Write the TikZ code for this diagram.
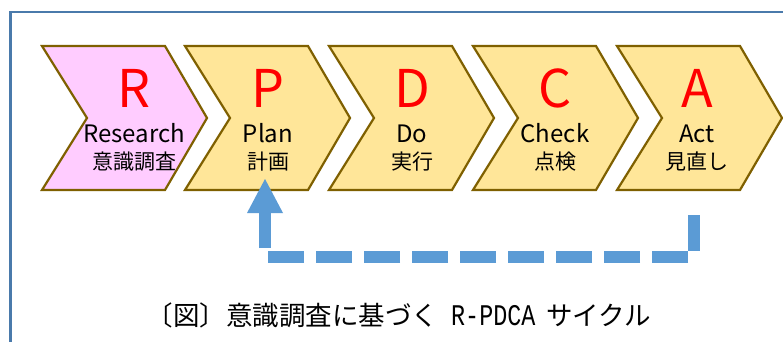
\documentclass[tikz,border=0pt]{standalone}
\usepackage{fontspec}
\usepackage{graphicx}
\newfontfamily\jp{Noto Sans CJK JP}
\newfontfamily\capmono{Liberation Mono}
\definecolor{framecol}{HTML}{4A7AAB}
\definecolor{chevbrown}{HTML}{7F6000}
\definecolor{chevpink}{HTML}{FFCCFF}
\definecolor{chevyellow}{HTML}{FFE699}
\definecolor{loopblue}{HTML}{5B9BD5}
\newcommand\chevshape[2]{%
  \path[chevline,fill=#2] (#1,46) -- ++(123,0) -- ++(42,72) -- ++(-42,72) -- ++(-123,0) -- ++(45,-72) -- cycle;}
\tikzset{
  chevline/.style={draw=chevbrown, line width=2.2pt, line join=miter},
  bigletter/.style={anchor=base, inner sep=0pt, text=red, font=\jp\fontsize{52}{52}\selectfont},
  engtext/.style={anchor=base, inner sep=0pt, font=\jp\fontsize{24}{24}\selectfont},
  jptext/.style={anchor=base, inner sep=0pt, font=\jp\fontsize{21}{21}\selectfont},
  loopline/.style={draw=loopblue, line width=12pt, line cap=butt},
  captiontext/.style={anchor=base west, inner sep=0pt, font=\jp\fontsize{26.5}{26.5}\selectfont}
}
\begin{document}
\begin{tikzpicture}[x=1pt,y=-1pt]
\useasboundingbox (0,0) rectangle (783,341);
\fill[white] (0,0) rectangle (783,341);
% frame
\draw[framecol, line width=2.6pt] (10.5,350) -- (10.5,12) -- (800,12);
% chevrons
\chevshape{42}{chevpink}
\chevshape{185}{chevyellow}
\chevshape{329}{chevyellow}
\chevshape{473}{chevyellow}
\chevshape{617}{chevyellow}
% texts
\node[bigletter] (lR) at (134,107) {R};
\node[engtext]  (eR) at (134,142) {Research};
\node[jptext]   (jR) at (134,169.5) {意識調査};
\node[bigletter] (lP) at (268,107) {P};
\node[engtext]  (eP) at (268,142) {Plan};
\node[jptext]   (jP) at (268,169.5) {計画};
\node[bigletter] (lD) at (412,107) {D};
\node[engtext]  (eD) at (412,142) {Do};
\node[jptext]   (jD) at (412,169.5) {実行};
\node[bigletter] (lC) at (555,107) {C};
\node[engtext]  (eC) at (555,142) {Check};
\node[jptext]   (jC) at (555,169.5) {点検};
\node[bigletter] (lA) at (697,107) {A};
\node[engtext]  (eA) at (697,142) {Act};
\node[jptext]   (jA) at (697,169.5) {見直し};
% feedback loop
\coordinate (vTop) at (694,215);
\coordinate (vBot) at (694,251);
\coordinate (hRight) at (688,257);
\coordinate (hLeft) at (267,257);
\coordinate (sBot) at (265,248);
\coordinate (sTop) at (265,212);
\coordinate (tipL) at (247,213);
\coordinate (tipR) at (283,213);
\coordinate (tipT) at (265,179);
\draw[loopline] (vTop) -- (vBot);
\draw[loopline, dash pattern=on 36pt off 12pt] (hRight) -- (hLeft);
\draw[loopline] (sBot) -- (sTop);
\fill[loopblue] (tipL) -- (tipR) -- (tipT) -- cycle;
% caption
\node[captiontext] (cap) at (146.5,325.5) {〔図〕意識調査に基づく\hspace{13pt}\scalebox{0.78}[1]{\capmono\fontsize{30}{30}\selectfont R-PDCA}\hspace{11pt}サイクル};
\end{tikzpicture}
\end{document}
